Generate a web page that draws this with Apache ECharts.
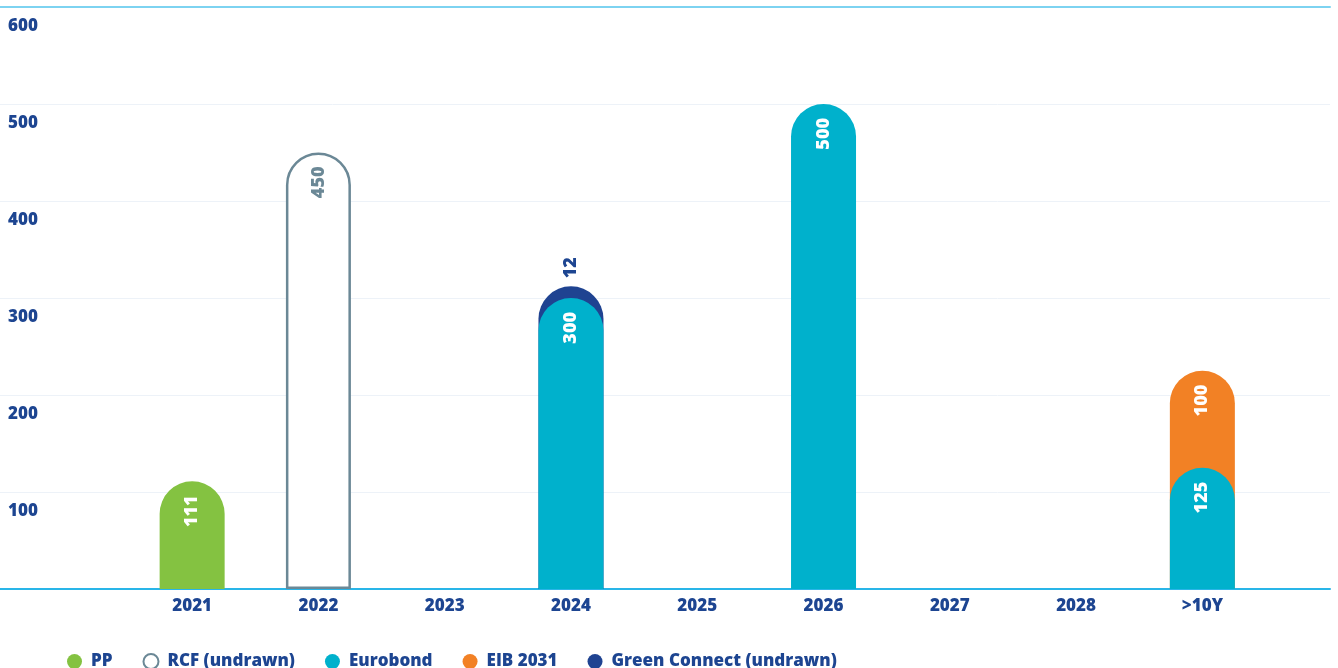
<!DOCTYPE html>
<html>
<head>
<meta charset="utf-8">
<script src="https://cdn.jsdelivr.net/npm/echarts@6/dist/echarts.min.js"></script>
<style>
  html, body { margin: 0; padding: 0; background: #fff; }
  #chart { width: 1338px; height: 668px; }
</style>
</head>
<body>
<div id="chart"></div>
<script>
// data
const categories = ['2021', '2022', '2023', '2024', '2025', '2026', '2027', '2028', '>10Y']
const pp = [111, null, null, null, null, null, null, null, null]
const rcf = [null, 450, null, null, null, null, null, null, null]
const eurobond = [null, null, null, 300, null, 500, null, null, 125]
const eib = [null, null, null, null, null, null, null, null, 100]
const greenConnect = [null, null, null, 12, null, null, null, null, null]
const yTicks = [0, 100, 200, 300, 400, 500, 600]

const NAVY = '#1d4591'
const FONT = '"Open Sans", sans-serif'
const WEIGHT = 800
const BAR_W = 65
const R = [32.5, 32.5, 0, 0]

// stacked values drawn as overlapping bars so the round top of the lower part sits on the upper one
const stackOn = (top, base) => top.map((v, i) => (v == null ? null : v + (base[i] || 0)))

function insideLabel(color, src) {
  return {
    show: true,
    position: 'insideTop',
    rotate: 90,
    align: 'right',
    verticalAlign: 'middle',
    distance: 14,
    color: color,
    fontFamily: FONT,
    fontWeight: WEIGHT,
    fontSize: 18,
    formatter: p => (src ? src[p.dataIndex] : p.value)
  }
}

const chart = echarts.init(document.getElementById('chart'))
chart.setOption({
  animation: false,
  textStyle: { fontFamily: FONT },
  grid: [
    { left: 0, right: 8, top: 7, bottom: 79 },
    { left: 129, right: 72.5, top: 7, bottom: 79 }
  ],
  xAxis: [
    {
      gridIndex: 0, type: 'value', position: 'bottom',
      axisLine: { show: true, lineStyle: { color: '#29b5e8', width: 2 } },
      axisTick: { show: false }, axisLabel: { show: false }, splitLine: { show: false }
    },
    {
      gridIndex: 0, type: 'value', position: 'top',
      axisLine: { show: true, lineStyle: { color: '#7dd3f1', width: 2 } },
      axisTick: { show: false }, axisLabel: { show: false }, splitLine: { show: false }
    },
    {
      gridIndex: 1, type: 'category', data: categories,
      axisLine: { show: false }, axisTick: { show: false },
      axisLabel: { color: NAVY, fontWeight: WEIGHT, fontSize: 17, margin: 9 }
    }
  ],
  yAxis: [
    {
      gridIndex: 0, type: 'value', min: yTicks[0], max: yTicks[yTicks.length - 1], interval: 100,
      axisLine: { show: false }, axisTick: { show: false },
      splitLine: { lineStyle: { color: '#edf2f8', width: 1 } },
      axisLabel: {
        inside: true, margin: 8, align: 'left', verticalAlign: 'top', padding: [11, 0, 0, 0],
        showMinLabel: false,
        formatter: v => (v === 0 ? '' : v),
        color: NAVY, fontWeight: WEIGHT, fontSize: 17
      }
    },
    {
      gridIndex: 1, type: 'value', min: 0, max: 600, show: false
    }
  ],
  legend: {
    top: 648, left: 62,
    icon: 'circle', itemWidth: 15, itemHeight: 15, itemGap: 30,
    textStyle: { color: NAVY, fontWeight: WEIGHT, fontSize: 17, padding: [0, 0, 0, 4] },
    data: [
      'PP',
      { name: 'RCF (undrawn)', itemStyle: { color: '#fff', borderColor: '#6b8896', borderWidth: 2 } },
      'Eurobond', 'EIB 2031', 'Green Connect (undrawn)'
    ]
  },
  series: [
    {
      name: 'PP', type: 'bar', xAxisIndex: 2, yAxisIndex: 1,
      barWidth: BAR_W, barGap: '-100%', data: pp,
      itemStyle: { color: '#84c241', borderRadius: R },
      label: insideLabel('#fff')
    },
    {
      name: 'RCF (undrawn)', type: 'bar', xAxisIndex: 2, yAxisIndex: 1,
      barWidth: BAR_W, barGap: '-100%', data: rcf,
      itemStyle: { color: '#fff', borderColor: '#6b8896', borderWidth: 2.5, borderRadius: R },
      label: insideLabel('#6b8896')
    },
    {
      name: 'Green Connect (undrawn)', type: 'bar', xAxisIndex: 2, yAxisIndex: 1,
      barWidth: BAR_W, barGap: '-100%', data: stackOn(greenConnect, eurobond),
      itemStyle: { color: '#1f4391', borderRadius: R },
      label: Object.assign(insideLabel(NAVY, greenConnect), { position: 'top', distance: 8, align: 'left' })
    },
    {
      name: 'EIB 2031', type: 'bar', xAxisIndex: 2, yAxisIndex: 1,
      barWidth: BAR_W, barGap: '-100%', data: stackOn(eib, eurobond),
      itemStyle: { color: '#f28125', borderRadius: R },
      label: insideLabel('#fff', eib)
    },
    {
      name: 'Eurobond', type: 'bar', xAxisIndex: 2, yAxisIndex: 1,
      barWidth: BAR_W, barGap: '-100%', data: eurobond,
      itemStyle: { color: '#00b1cc', borderRadius: R },
      label: insideLabel('#fff')
    }
  ]
})
</script>
</body>
</html>
